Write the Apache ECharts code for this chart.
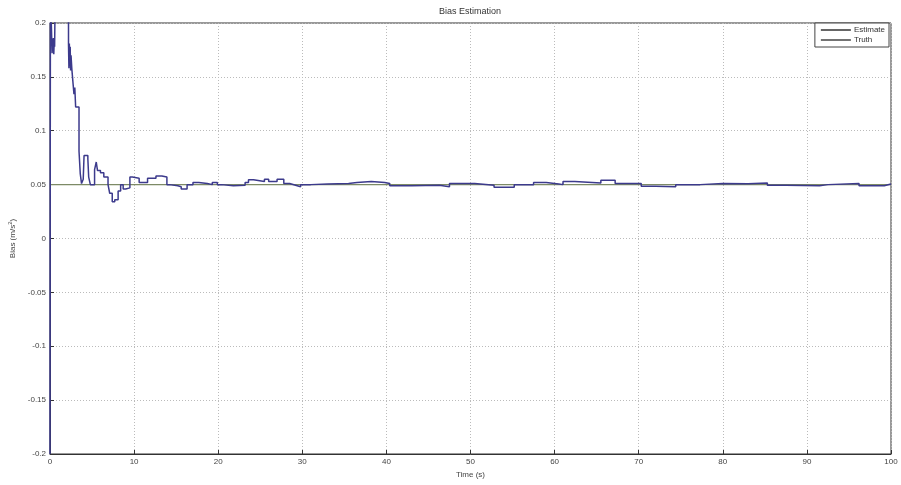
<!DOCTYPE html>
<html>
<head>
<meta charset="utf-8">
<script src="https://cdn.jsdelivr.net/npm/echarts@6/dist/echarts.min.js"></script>
<style>html,body{margin:0;padding:0;background:#fff}#c{width:901px;height:485px}</style>
</head>
<body>
<div id="c"></div>
<script>
// Time stamps (s) of the estimate steps
var estTimes = [0, 0.02, 0.05, 0.25, 0.3, 0.35, 0.4, 0.45, 0.5, 0.55, 0.62, 2.2, 2.25, 2.3, 2.35, 2.4, 2.45, 2.5, 2.6, 2.75, 2.85, 2.95, 3.05, 3.45, 3.6, 3.75, 3.95, 4.05, 4.5, 4.6, 4.8, 5.3, 5.5, 5.65, 6.0, 6.4, 6.9, 7.1, 7.4, 7.7, 8.1, 8.4, 8.7, 9.0, 9.5, 9.8, 10.6, 11.6, 12.0, 12.6, 13.3, 13.9, 14.2, 15.2, 15.6, 16.3, 17.0, 17.7, 18.7, 19.3, 19.9, 20.4, 21.8, 23.2, 23.6, 24.2, 25.5, 26.0, 27.0, 27.8, 28.5, 29.2, 29.8, 31.0, 33.0, 35.5, 36.5, 38.2, 39.8, 40.4, 43.0, 46.3, 47.5, 50.5, 52.8, 55.2, 57.5, 59.0, 60.5, 61.0, 62.4, 65.5, 67.2, 70.3, 72.0, 74.4, 77.3, 80.0, 83.0, 85.3, 87.5, 91.5, 92.5, 96.2, 99.2, 100];
// Estimated bias values (m/s^2)
var estValues = [-0.2, -0.01, 0.23, 0.172, 0.185, 0.175, 0.186, 0.171, 0.183, 0.178, 0.23, 0.18, 0.158, 0.181, 0.16, 0.178, 0.156, 0.17, 0.157, 0.143, 0.134, 0.14, 0.122, 0.081, 0.06, 0.051, 0.055, 0.077, 0.074, 0.057, 0.05, 0.064, 0.071, 0.063, 0.061, 0.057, 0.05, 0.042, 0.034, 0.036, 0.044, 0.05, 0.046, 0.047, 0.057, 0.056, 0.052, 0.056, 0.056, 0.058, 0.057, 0.05, 0.049, 0.048, 0.046, 0.05, 0.052, 0.051, 0.05, 0.052, 0.05, 0.049, 0.0495, 0.052, 0.0545, 0.053, 0.055, 0.053, 0.055, 0.051, 0.0495, 0.048, 0.05, 0.0505, 0.051, 0.052, 0.053, 0.052, 0.051, 0.049, 0.0495, 0.048, 0.051, 0.0495, 0.0475, 0.05, 0.052, 0.0505, 0.05, 0.053, 0.0515, 0.054, 0.051, 0.0485, 0.048, 0.05, 0.051, 0.0508, 0.0515, 0.0495, 0.049, 0.05, 0.051, 0.049, 0.0505, 0.0505];
// Truth
var truthTimes = [0, 100];
var truthValues = [0.05, 0.05];
// Axes
var xTicks = [0, 10, 20, 30, 40, 50, 60, 70, 80, 90, 100];
var yTicks = [-0.2, -0.15, -0.1, -0.05, 0, 0.05, 0.1, 0.15, 0.2];

var estData = estTimes.map(function (t, i) { return [t, estValues[i]]; });
var truthData = truthTimes.map(function (t, i) { return [t, truthValues[i]]; });

var font = '"Liberation Sans", Arial, sans-serif';
var chart = echarts.init(document.getElementById('c'), null, { renderer: 'canvas' });
chart.setOption({
  animation: false,
  backgroundColor: '#fff',
  title: {
    text: 'Bias Estimation',
    left: 434, top: 2,
    textStyle: { fontSize: 9, fontWeight: 'normal', color: '#333', fontFamily: font }
  },
  legend: {
    orient: 'vertical',
    right: 12, top: 23,
    backgroundColor: '#fff',
    borderColor: '#444', borderWidth: 1, borderRadius: 0,
    padding: [3, 4, 3, 6],
    itemWidth: 30, itemHeight: 1.5, itemGap: 2,
    icon: 'rect',
    textStyle: { fontSize: 8, color: '#333', fontFamily: font, padding: [0, 0, 0, -2] },
    data: [
      { name: 'Estimate', itemStyle: { color: '#333' } },
      { name: 'Truth', itemStyle: { color: '#444' } }
    ]
  },
  grid: {
    left: 50, right: 10, top: 23, bottom: 31,
    containLabel: false, outerBoundsMode: 'none',
    show: true, borderColor: '#333', borderWidth: 1, backgroundColor: 'transparent'
  },
  xAxis: {
    type: 'value', min: xTicks[0], max: xTicks[xTicks.length - 1], interval: 10,
    name: 'Time (s)', nameLocation: 'middle', nameGap: 15,
    nameTextStyle: { fontSize: 8, color: '#444', fontFamily: font },
    axisLine: { show: true, onZero: false, lineStyle: { color: '#333', width: 1 } },
    axisTick: { show: true, inside: true, length: 4, lineStyle: { color: '#333' } },
    axisLabel: { fontSize: 8, color: '#444', fontFamily: font, margin: 4 },
    splitLine: { show: true, lineStyle: { color: '#bbb', type: [1, 2], width: 1 } }
  },
  yAxis: {
    type: 'value', min: yTicks[0], max: yTicks[yTicks.length - 1], interval: 0.05,
    name: '{a|Bias (m/s}{b|2}{a|)}', nameLocation: 'middle', nameGap: 30, nameRotate: 90,
    nameTextStyle: {
      fontSize: 8, color: '#444', fontFamily: font,
      rich: {
        a: { fontSize: 8, color: '#444', fontFamily: font },
        b: { fontSize: 6, color: '#444', fontFamily: font, padding: [0, 0, 5, 0] }
      }
    },
    axisLine: { show: true, onZero: false, lineStyle: { color: '#333', width: 1 } },
    axisTick: { show: true, inside: true, length: 4, lineStyle: { color: '#333' } },
    axisLabel: {
      fontSize: 8, color: '#444', fontFamily: font, margin: 4,
      formatter: function (v) { return String(Math.round(v * 100) / 100); }
    },
    splitLine: { show: true, lineStyle: { color: '#bbb', type: [1, 2], width: 1 } }
  },
  series: [
    {
      name: 'Truth', type: 'line', data: truthData, symbol: 'none', z: 2,
      lineStyle: { color: '#7d8a66', width: 1.2 }, itemStyle: { color: '#7d8a66' }
    },
    {
      name: 'Estimate', type: 'line', data: estData, symbol: 'none', step: 'end', z: 3,
      clip: true,
      lineStyle: { color: '#3c3a8c', width: 1.5 }, itemStyle: { color: '#3c3a8c' }
    }
  ]
});
</script>
</body>
</html>
